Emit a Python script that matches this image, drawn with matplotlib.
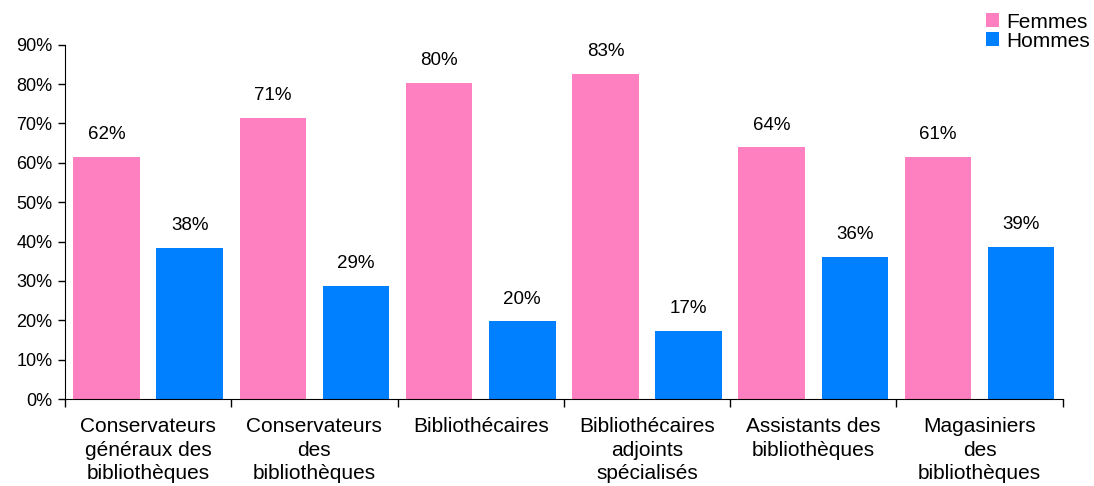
import numpy as np
import matplotlib.pyplot as plt
from matplotlib.ticker import PercentFormatter

plt.rcParams['font.family'] = ['Liberation Sans', 'DejaVu Sans']

categories = [
    "Conservateurs\ngénéraux des\nbibliothèques",
    "Conservateurs\ndes\nbibliothèques",
    "Bibliothécaires",
    "Bibliothécaires\nadjoints\nspécialisés",
    "Assistants des\nbibliothèques",
    "Magasiniers\ndes\nbibliothèques",
]
femmes = [61.6, 71.3, 80.3, 82.6, 63.9, 61.4]
hommes = [38.4, 28.7, 19.7, 17.4, 36.1, 38.6]

pink = "#FF80C0"
blue = "#0080FF"

fig = plt.figure(figsize=(10.94, 4.86), dpi=100)
ax = fig.add_axes([0.0594, 0.179, 0.912, 0.729])

x = np.arange(len(categories)) + 0.5
w = 0.4
b1 = ax.bar(x - 0.25, femmes, w, color=pink, label="Femmes")
b2 = ax.bar(x + 0.25, hommes, w, color=blue, label="Hommes")

for bars, vals in ((b1, femmes), (b2, hommes)):
    for bar, v in zip(bars, vals):
        ax.annotate(f"{round(v)}%", (bar.get_x() + bar.get_width() / 2, v),
                    xytext=(0, 10), textcoords="offset points",
                    ha="center", va="bottom", fontsize=13.5)

ax.set_xlim(0, len(categories))
ax.set_ylim(0, 90)
ax.set_yticks(np.arange(0, 91, 10))
ax.yaxis.set_major_formatter(PercentFormatter(decimals=0))
ax.tick_params(axis="y", labelsize=13, length=5, direction="out", width=1, pad=4)

ax.set_xticks(np.arange(len(categories) + 1))
ax.set_xticklabels([])
ax.tick_params(axis="x", which="major", length=6, direction="out", width=1)
ax.set_xticks(x, minor=True)
ax.set_xticklabels(categories, minor=True, fontsize=15, linespacing=1.3)
ax.tick_params(axis="x", which="minor", length=0, pad=13)

for s in ("top", "right"):
    ax.spines[s].set_visible(False)
ax.spines["left"].set_color("black")
ax.spines["bottom"].set_color("black")

fig.legend(handles=[b1, b2], loc="upper right", bbox_to_anchor=(1.008, 1.0),
           frameon=False, fontsize=15, handlelength=0.65, handleheight=0.65,
           handletextpad=0.35, labelspacing=0.0, borderaxespad=0.2)

fig.savefig("out.png", dpi=100)
